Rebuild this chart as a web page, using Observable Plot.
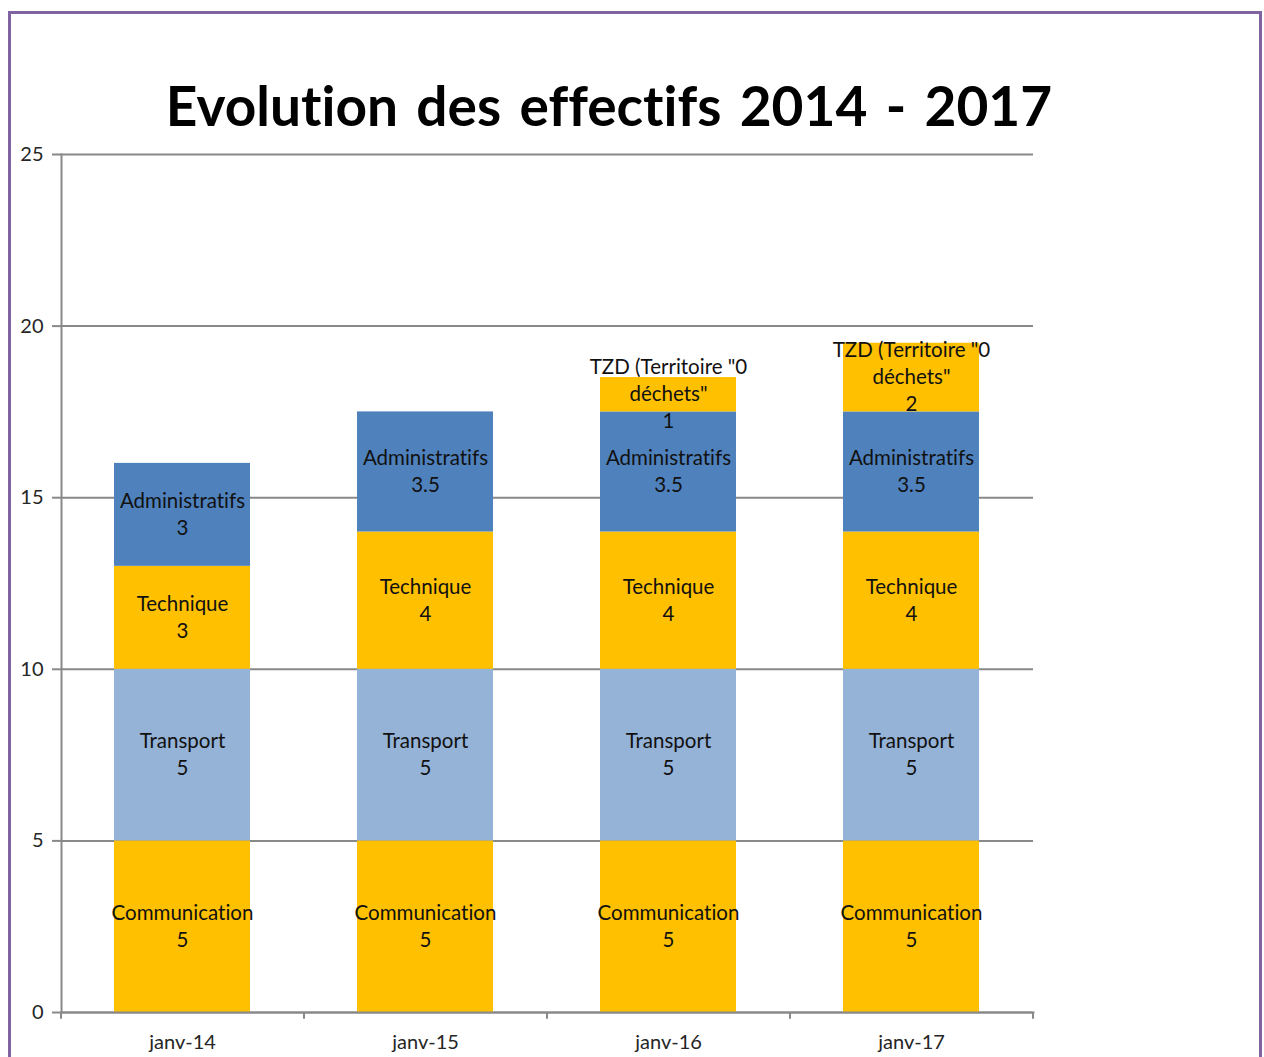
<!DOCTYPE html>
<html>
<head>
<meta charset="utf-8">
<script src="https://cdn.jsdelivr.net/npm/d3@7"></script>
<script src="https://cdn.jsdelivr.net/npm/@observablehq/plot@0.6"></script>
<style>
  html, body { margin: 0; padding: 0; background: #fff; overflow: hidden; }
  #frame { position: absolute; left: 8px; top: 11px; width: 1254px; height: 1100px; box-sizing: border-box; border: 3px solid #8064A2; }
  #title { position: absolute; left: 0; top: 70px; width: 1218px; text-align: center; font-family: Lato, sans-serif; font-weight: bold; font-size: 55px; line-height: 70px; color: #000; word-spacing: 5px; font-variant-ligatures: none; }
  #chart { position: absolute; left: 1px; top: 140px; }
  #chart svg text { font-variant-ligatures: none; }
</style>
</head>
<body>
<div id="frame"></div>
<div id="title">Evolution des effectifs 2014 - 2017</div>
<div id="chart"></div>
<script>
const months = ["janv-14", "janv-15", "janv-16", "janv-17"];
const series = ["Communication", "Transport", "Technique", "Administratifs", "TZD (Territoire \"0 déchets\""];
const seriesLabels = ["Communication", "Transport", "Technique", "Administratifs", "TZD (Territoire \"0\ndéchets\""];
const seriesColors = ["#FFC000", "#95B3D7", "#FFC000", "#4F81BD", "#FFC000"];
const communication = [5, 5, 5, 5];
const transport = [5, 5, 5, 5];
const technique = [3, 4, 4, 4];
const administratifs = [3, 3.5, 3.5, 3.5];
const tzd = [0, 0, 1, 2];
const yTicks = [0, 5, 10, 15, 20, 25];

const valuesBySeries = [communication, transport, technique, administratifs, tzd];
const data = [];
series.forEach((s, i) => {
  months.forEach((m, j) => {
    data.push({month: m, series: s, label: seriesLabels[i], value: valuesBySeries[i][j]});
  });
});

const W = 1263, H = 917, mL = 60, mR = 231, mT = 14, mB = 45;
const step = (W - mL - mR) / months.length;
const font = "Lato, sans-serif";

const chart = Plot.plot({
  width: W, height: H,
  marginLeft: mL, marginRight: mR, marginTop: mT, marginBottom: mB,
  style: {fontFamily: font, background: "transparent", overflow: "visible"},
  x: {domain: months, paddingInner: 0.44, paddingOuter: 0.22},
  y: {domain: [0, 25]},
  color: {domain: series, range: seriesColors},
  marks: [
    Plot.gridY(yTicks, {stroke: "#898989", strokeOpacity: 1, strokeWidth: 2}),
    Plot.barY(data.filter(d => d.value > 0), {x: "month", y: "value", fill: "series", order: series}),
    Plot.frame({anchor: "left", stroke: "#898989", strokeWidth: 2}),
    Plot.frame({anchor: "bottom", stroke: "#898989", strokeWidth: 2}),
    Plot.axisY(yTicks, {tickSize: 9, tickPadding: 9, fontSize: 20, fill: "#262626", stroke: "#898989", strokeWidth: 2, label: null}),
    Plot.axisX({tickSize: 0, tickPadding: 22, fontSize: 20, fill: "#262626", label: null}),
    Plot.ruleX(months, {x: d => d, dx: -step / 2, y1: 0, y2: -0.2, stroke: "#898989", strokeWidth: 2}),
    Plot.ruleX(months.slice(-1), {x: d => d, dx: step / 2, y1: 0, y2: -0.2, stroke: "#898989", strokeWidth: 2}),
    Plot.text(data.filter(d => d.value > 0), Plot.stackY({
      x: "month", y: "value", z: "series", order: series,
      text: d => d.label + "\n" + d.value,
      fontSize: 20.5, fill: "#111", lineHeight: 1.32, lineAnchor: "middle", dy: -2
    }))
  ]
});
document.getElementById("chart").appendChild(chart);
</script>
</body>
</html>
